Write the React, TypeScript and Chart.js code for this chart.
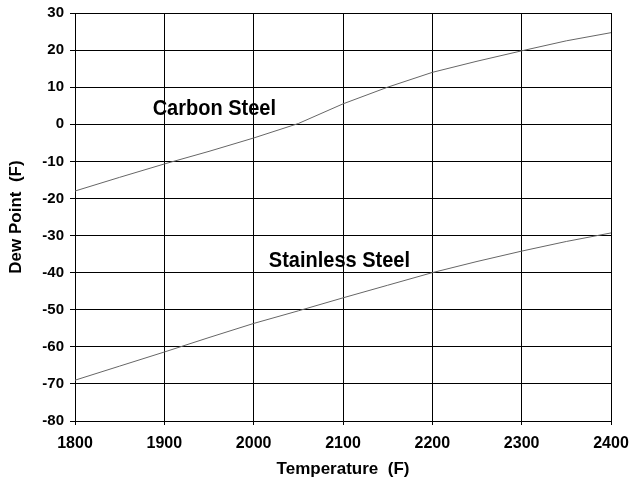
import React, { useEffect, useRef } from "react";
import { Chart, registerables } from "chart.js";

Chart.register(...registerables);

const temperatures = [1800, 1850, 1900, 1950, 2000, 2050, 2100, 2150, 2200, 2250, 2300, 2350, 2400];
const carbonSteel = [-18, -14.3, -10.7, -7.3, -3.7, 0.2, 5.5, 10, 14, 17, 19.8, 22.5, 24.7];
const stainlessSteel = [-69, -65.2, -61.4, -57.5, -53.7, -50.3, -46.8, -43.4, -40, -37, -34.2, -31.6, -29.3];
const xTicks = [1800, 1900, 2000, 2100, 2200, 2300, 2400];
const yTicks = [30, 20, 10, 0, -10, -20, -30, -40, -50, -60, -70, -80];

const seriesLabels = [
  { text: "Carbon Steel", x: 1956, y: 4.0 },
  { text: "Stainless Steel", x: 2096, y: -37.0 },
];

const FONT = "'Liberation Sans', Arial, sans-serif";

const labelPlugin = {
  id: "seriesLabels",
  afterDatasetsDraw(chart: any) {
    const ctx = chart.ctx;
    const xs = chart.scales.x;
    const ys = chart.scales.y;
    ctx.save();
    ctx.font = `bold 20px ${FONT}`;
    ctx.fillStyle = "#000";
    ctx.textAlign = "center";
    ctx.textBaseline = "middle";
    for (const l of seriesLabels) {
      const px = xs.getPixelForValue(l.x);
      const py = ys.getPixelForValue(l.y);
      ctx.save();
      ctx.translate(px, py);
      ctx.scale(1, 1.08);
      ctx.fillText(l.text, 0, 0);
      ctx.restore();
    }
    ctx.restore();
  },
};

export default function App() {
  const ref = useRef<HTMLCanvasElement | null>(null);
  useEffect(() => {
    if (!ref.current) return;
    const chart = new Chart(ref.current, {
      type: "line",
      data: {
        datasets: [
          {
            label: "Carbon Steel",
            data: temperatures.map((t, i) => ({ x: t, y: carbonSteel[i] })),
            borderColor: "#666",
            borderWidth: 1,
            pointRadius: 0,
            tension: 0,
            fill: false,
          },
          {
            label: "Stainless Steel",
            data: temperatures.map((t, i) => ({ x: t, y: stainlessSteel[i] })),
            borderColor: "#666",
            borderWidth: 1,
            pointRadius: 0,
            tension: 0,
            fill: false,
          },
        ],
      },
      options: {
        animation: false,
        responsive: false,
        maintainAspectRatio: false,
        layout: { padding: { top: 13, right: 21, left: 0, bottom: 0 } },
        plugins: {
          legend: { display: false },
          tooltip: { enabled: false },
        },
        scales: {
          x: {
            type: "linear",
            min: 1800,
            max: 2400,
            afterBuildTicks: (axis: any) => {
              axis.ticks = xTicks.map((v) => ({ value: v }));
            },
            afterFit: (axis: any) => {
              axis.height = 61;
              axis.paddingLeft = 0;
              axis.paddingRight = 0;
            },
            grid: {
              color: "#000",
              lineWidth: 1,
              tickLength: 4,
              drawTicks: true,
            },
            border: { color: "#000", width: 1 },
            ticks: {
              color: "#000",
              font: { family: FONT, size: 16, weight: "bold" },
              padding: 9,
              maxRotation: 0,
              autoSkip: false,
              callback: (v: any) => String(v),
            },
            title: {
              display: true,
              text: "Temperature  (F)",
              color: "#000",
              font: { family: FONT, size: 17, weight: "bold" },
              padding: { top: 0, bottom: 2 },
            },
          },
          y: {
            type: "linear",
            min: -80,
            max: 30,
            afterBuildTicks: (axis: any) => {
              axis.ticks = yTicks.map((v) => ({ value: v }));
            },
            afterFit: (axis: any) => {
              axis.width = 75;
              axis.paddingTop = 0;
              axis.paddingBottom = 0;
            },
            grid: {
              color: "#000",
              lineWidth: 1,
              tickLength: 5,
            },
            border: { color: "#000", width: 1 },
            ticks: {
              color: "#000",
              font: { family: FONT, size: 15, weight: "bold" },
              padding: 6,
              autoSkip: false,
              callback: (v: any) => String(v),
            },
            title: {
              display: true,
              text: "Dew Point  (F)",
              color: "#000",
              font: { family: FONT, size: 17, weight: "bold" },
              padding: { top: 6, bottom: 0 },
            },
          },
        },
      },
      plugins: [labelPlugin],
    } as any);
    return () => chart.destroy();
  }, []);

  return (
    <div style={{ position: "fixed", left: 0, top: 0, width: 632, height: 482, background: "#fff" }}>
      <canvas ref={ref} width={632} height={482} style={{ display: "block" }} />
    </div>
  );
}
